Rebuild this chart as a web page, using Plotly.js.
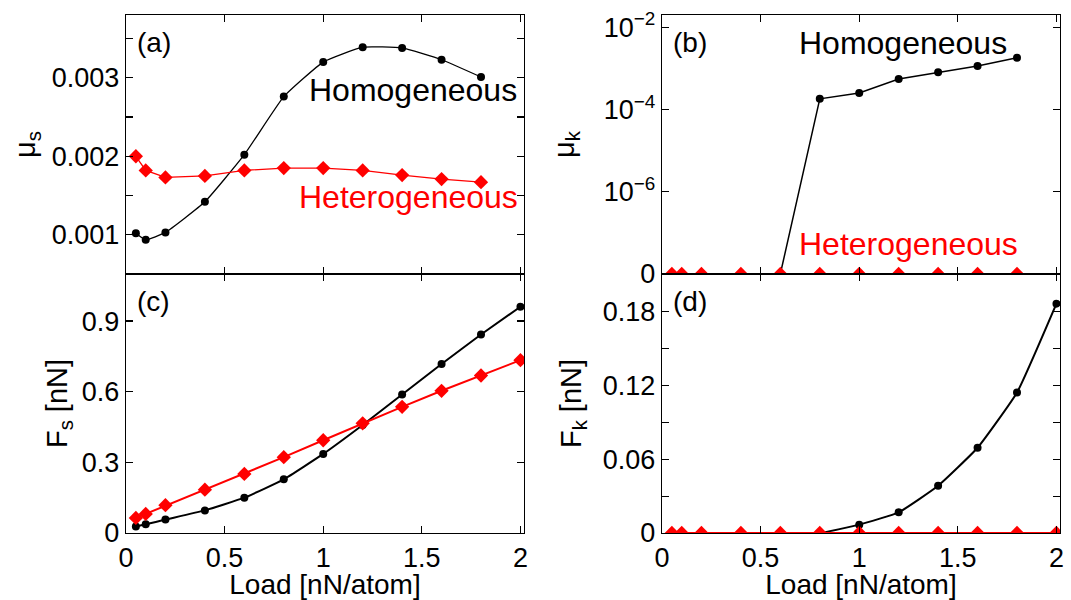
<!DOCTYPE html>
<html>
<head>
<meta charset="utf-8">
<script src="https://cdn.plot.ly/plotly-3.0.1.min.js"></script>
<style>html,body{margin:0;padding:0;background:#fff;}#chart{width:1071px;height:600px;}</style>
</head>
<body>
<div id="chart"></div>
<script>
// ---- data ----
const loadTop = [0.05, 0.1, 0.2, 0.4, 0.6, 0.8, 1.0, 1.2, 1.4, 1.6, 1.8];
const loadBottom = [0.05, 0.1, 0.2, 0.4, 0.6, 0.8, 1.0, 1.2, 1.4, 1.6, 1.8, 2.0];

const muS_homo   = [0.00102, 0.000936, 0.00103, 0.00142, 0.00202, 0.00276, 0.00320, 0.00339, 0.00338, 0.00323, 0.00301];
const muS_hetero = [0.00200, 0.00182, 0.00173, 0.00175, 0.00182, 0.00185, 0.00185, 0.00182, 0.00176, 0.00171, 0.00167];

const muK_homo   = [0, 0, 0, 0, 0, 1.82e-4, 2.54e-4, 5.56e-4, 8.07e-4, 1.15e-3, 1.83e-3];
const muK_hetero = [0, 0, 0, 0, 0, 0, 0, 0, 0, 0, 0];

const Fs_homo   = [0.028, 0.037, 0.057, 0.096, 0.150, 0.228, 0.336, 0.459, 0.588, 0.718, 0.843, 0.961];
const Fs_hetero = [0.064, 0.081, 0.118, 0.184, 0.251, 0.322, 0.394, 0.466, 0.536, 0.604, 0.669, 0.734];

const Fk_homo   = [0, 0, 0, 0, 0, 0, 0.0068, 0.0168, 0.0384, 0.0693, 0.1142, 0.1865];
const Fk_hetero = [0, 0, 0, 0, 0, 0, 0, 0, 0, 0, 0, 0];

const logTickVals = [1e-8, 1e-6, 1e-4, 1e-2];
const logTickText = ['0', '10<sup>\u22126</sup>', '10<sup>\u22124</sup>', '10<sup>\u22122</sup>'];
const LOG_FLOOR = 1e-8; // where "0" is drawn on the log axis
const floorZero = arr => arr.map(v => v === 0 ? LOG_FLOOR : v);

// ---- styles ----
const BLACK = '#000000', RED = '#ff0000';
const FONT = 'Liberation Sans, Arial, Helvetica, sans-serif';
const TICK_SIZE = 27, TITLE_SIZE = 29, XTITLE_SIZE = 28, NOTE_SIZE = 32;

function homo(x, y, xa, ya, w, shape) {
  return {x: x, y: y, xaxis: xa, yaxis: ya, type: 'scatter', mode: 'lines+markers',
    line: {color: BLACK, width: w, shape: shape || 'linear', smoothing: 0.4},
    marker: {symbol: 'circle', size: 8, color: BLACK}, showlegend: false, hoverinfo: 'skip'};
}
function hetero(x, y, xa, ya, w) {
  return {x: x, y: y, xaxis: xa, yaxis: ya, type: 'scatter', mode: 'lines+markers',
    line: {color: RED, width: w},
    marker: {symbol: 'diamond', size: 11, color: RED}, showlegend: false, hoverinfo: 'skip'};
}

const traces = [
  homo(loadTop, muS_homo, 'x', 'y', 1.3, 'spline'),
  hetero(loadTop, muS_hetero, 'x', 'y', 1.3),
  homo(loadTop, floorZero(muK_homo), 'x2', 'y2', 1.5),
  hetero(loadTop, floorZero(muK_hetero), 'x2', 'y2', 1.5),
  homo(loadBottom, Fs_homo, 'x3', 'y3', 2, 'spline'),
  hetero(loadBottom, Fs_hetero, 'x3', 'y3', 2),
  homo(loadBottom, Fk_homo, 'x4', 'y4', 2, 'spline'),
  hetero(loadBottom, Fk_hetero, 'x4', 'y4', 2)
];

const W = 1071, H = 600;
const colL = [126 / W, 524 / W], colR = [662 / W, 1060 / W];
const rowT = [1 - 274 / H, 1 - 15 / H], rowB = [1 - 533 / H, 1 - 274 / H];

function xax(domain, anchor, showLabels) {
  return {domain: domain, anchor: anchor, range: [0, 2.018], showgrid: false, zeroline: false,
    showline: true, linecolor: BLACK, linewidth: 1.3, mirror: 'ticks',
    ticks: 'inside', ticklen: 7, tickwidth: 1.2, tickcolor: BLACK,
    tickvals: [0, 0.5, 1, 1.5, 2], ticktext: ['0', '0.5', '1', '1.5', '2'],
    showticklabels: showLabels, tickfont: {size: TICK_SIZE, color: BLACK},
    title: showLabels ? {text: 'Load [nN/atom]', font: {size: XTITLE_SIZE, color: BLACK}, standoff: 7} : {text: ''}};
}
function yax(domain, anchor, extra) {
  return Object.assign({domain: domain, anchor: anchor, showgrid: false, zeroline: false,
    showline: true, linecolor: BLACK, linewidth: 1.3, mirror: 'ticks',
    ticks: 'inside', ticklen: 7, tickwidth: 1.2, tickcolor: BLACK,
    tickfont: {size: TICK_SIZE, color: BLACK}}, extra);
}

const layout = {
  width: W, height: H,
  margin: {l: 0, r: 0, t: 0, b: 0},
  paper_bgcolor: '#ffffff', plot_bgcolor: '#ffffff',
  font: {family: FONT, color: BLACK},
  xaxis: xax(colL, 'y', false),
  xaxis2: xax(colR, 'y2', false),
  xaxis3: xax(colL, 'y3', true),
  xaxis4: xax(colR, 'y4', true),
  yaxis: yax(rowT, 'x', {range: [0.0005, 0.0038], tickvals: [0.001, 0.002, 0.003],
    ticktext: ['0.001', '0.002', '0.003'],
    minor: {ticks: 'inside', ticklen: 7, tickwidth: 1.2, tickcolor: BLACK, dtick: 0.0005, showgrid: false},
    title: {text: '\u03bc<sub>s</sub>', font: {size: TITLE_SIZE, color: BLACK}, standoff: 7}}),
  yaxis2: yax(rowT, 'x2', {type: 'log', range: [-8, -1.7], tickvals: logTickVals, ticktext: logTickText,
    title: {text: '\u03bc<sub>k</sub>', font: {size: TITLE_SIZE, color: BLACK}, standoff: 20}}),
  yaxis3: yax(rowB, 'x3', {range: [0, 1.1], tickvals: [0, 0.3, 0.6, 0.9], ticktext: ['0', '0.3', '0.6', '0.9'],
    title: {text: 'F<sub>s</sub> [nN]', font: {size: TITLE_SIZE, color: BLACK}, standoff: 5}}),
  yaxis4: yax(rowB, 'x4', {range: [0, 0.2106], tickvals: [0, 0.06, 0.12, 0.18], ticktext: ['0', '0.06', '0.12', '0.18'],
    minor: {ticks: 'inside', ticklen: 7, tickwidth: 1.2, tickcolor: BLACK, dtick: 0.03, showgrid: false},
    title: {text: 'F<sub>k</sub> [nN]', font: {size: TITLE_SIZE, color: BLACK}, standoff: 12}}),
  annotations: [
    {text: '(a)', xref: 'paper', yref: 'paper', x: 135 / W, y: 1 - 42 / H, xanchor: 'left', yanchor: 'middle', showarrow: false, font: {size: 28, color: BLACK}},
    {text: '(b)', xref: 'paper', yref: 'paper', x: 671 / W, y: 1 - 42 / H, xanchor: 'left', yanchor: 'middle', showarrow: false, font: {size: 28, color: BLACK}},
    {text: '(c)', xref: 'paper', yref: 'paper', x: 135 / W, y: 1 - 301 / H, xanchor: 'left', yanchor: 'middle', showarrow: false, font: {size: 28, color: BLACK}},
    {text: '(d)', xref: 'paper', yref: 'paper', x: 671 / W, y: 1 - 301 / H, xanchor: 'left', yanchor: 'middle', showarrow: false, font: {size: 28, color: BLACK}},
    {text: 'Homogeneous', xref: 'paper', yref: 'paper', x: 519 / W, y: 1 - 90 / H, xanchor: 'right', yanchor: 'middle', showarrow: false, font: {size: NOTE_SIZE, color: BLACK}},
    {text: 'Heterogeneous', xref: 'paper', yref: 'paper', x: 520 / W, y: 1 - 197 / H, xanchor: 'right', yanchor: 'middle', showarrow: false, font: {size: NOTE_SIZE, color: RED}},
    {text: 'Homogeneous', xref: 'paper', yref: 'paper', x: 1009 / W, y: 1 - 43 / H, xanchor: 'right', yanchor: 'middle', showarrow: false, font: {size: NOTE_SIZE, color: BLACK}},
    {text: 'Heterogeneous', xref: 'paper', yref: 'paper', x: 1020 / W, y: 1 - 244 / H, xanchor: 'right', yanchor: 'middle', showarrow: false, font: {size: NOTE_SIZE, color: RED}}
  ]
};

Plotly.newPlot('chart', traces, layout, {staticPlot: true, displayModeBar: false});
</script>
</body>
</html>
